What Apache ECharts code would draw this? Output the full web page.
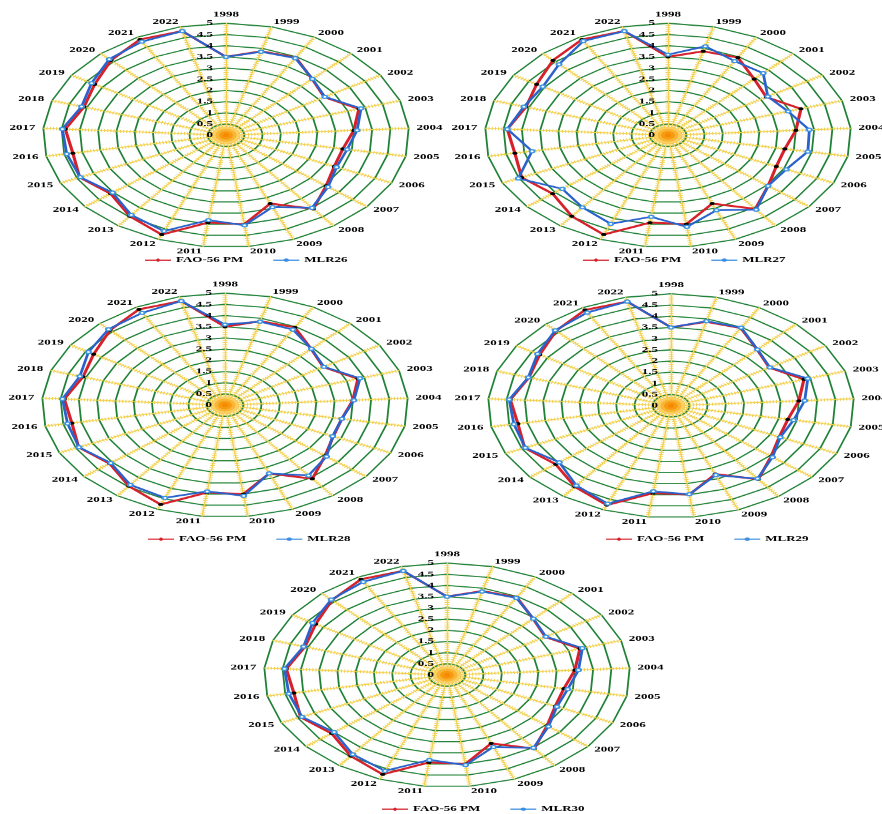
<!DOCTYPE html>
<html>
<head>
<meta charset="utf-8">
<title>FAO-56 PM vs MLR26-30</title>
<script src="https://cdn.jsdelivr.net/npm/echarts@6/dist/echarts.min.js"></script>
<style>
  html, body { margin: 0; padding: 0; background: #fff; overflow: hidden; }
  #wrap { width: 882px; height: 814px; overflow: hidden; }
  /* the figure is a set of circular radars squashed vertically */
  #chart { width: 882px; height: 1330px; transform: scaleY(0.612); transform-origin: 0 0; }
</style>
</head>
<body>
<div id="wrap"><div id="chart"></div></div>
<script>
const years = ['1998', '1999', '2000', '2001', '2002', '2003', '2004', '2005', '2006',
  '2007', '2008', '2009', '2010', '2011', '2012', '2013', '2014', '2015', '2016',
  '2017', '2018', '2019', '2020', '2021', '2022'];

const fao56 = [3.5, 3.87, 3.96, 3.44, 3.18, 3.82, 3.5, 3.25, 3.27, 3.55, 4.06, 3.28, 4.0,
  3.93, 4.77, 4.47, 4.09, 4.42, 4.26, 4.4, 4.08, 4.25, 4.59, 4.88, 4.8];
const mlr26 = [3.5, 3.85, 3.93, 3.45, 3.2, 3.88, 3.59, 3.37, 3.34, 3.62, 4.0, 3.45, 4.05,
  3.82, 4.6, 4.4, 4.02, 4.4, 4.43, 4.48, 4.15, 4.35, 4.66, 4.77, 4.8];
const mlr27 = [3.6, 4.1, 3.78, 3.8, 3.23, 3.45, 3.87, 3.89, 3.57, 3.55, 4.1, 3.6, 4.12,
  3.67, 4.25, 3.98, 3.75, 4.52, 3.78, 4.4, 4.14, 4.05, 4.35, 4.8, 4.8];
const mlr28 = [3.6, 3.85, 3.85, 3.45, 3.2, 3.88, 3.53, 3.25, 3.25, 3.6, 3.88, 3.28, 4.08,
  3.88, 4.45, 4.4, 4.05, 4.41, 4.38, 4.45, 4.17, 4.42, 4.65, 4.7, 4.8];
const mlr29 = [3.5, 3.9, 3.98, 3.45, 3.2, 3.93, 3.66, 3.41, 3.3, 3.6, 4.02, 3.33, 3.98,
  3.85, 4.7, 4.4, 3.96, 4.4, 4.37, 4.43, 4.1, 4.32, 4.62, 4.75, 4.8];
const mlr30 = [3.5, 3.85, 3.93, 3.45, 3.2, 3.89, 3.6, 3.36, 3.32, 3.6, 4.02, 3.45, 4.05,
  3.82, 4.6, 4.38, 4.0, 4.38, 4.4, 4.45, 4.12, 4.35, 4.62, 4.75, 4.8];

const models = ['MLR26', 'MLR27', 'MLR28', 'MLR29', 'MLR30'];
const mlrValues = [mlr26, mlr27, mlr28, mlr29, mlr30];

// layout in unsquashed pixels
const SQUASH = 0.612;
const R = 183;
const centers = [[226, 221], [668, 221], [225, 662], [671, 663], [447, 1103]];
const legendAt = [[140, 258], [578, 258], [143, 537], [601, 537], [377, 807]];

const RED = '#d6202a';
const BLUE = '#2a62cc';
const font = { color: '#000', fontFamily: '"Liberation Serif", "Times New Roman", serif', fontWeight: 'bold', fontSize: 13 };

// radar goes counter-clockwise, the figure goes clockwise from 1998 at the top
const order = years.map((y, i) => (i === 0 ? 0 : years.length - i));
const cw = arr => order.map(i => arr[i]);

const faoIcon = 'path://M0,3.1H26V4.9H0Z M13,1L16,4L13,7L10,4Z';
const mlrIcon = 'path://M0,3.1H26V4.9H0Z M13,1.3A2.7,2.7,0,1,1,12.99,1.3Z';

const chart = echarts.init(document.getElementById('chart'));

chart.setOption({
  backgroundColor: '#fff',
  animation: false,
  radar: centers.map(c => ({
    center: c,
    radius: R,
    startAngle: 90,
    shape: 'polygon',
    splitNumber: 10,
    z: 1,
    indicator: cw(years).map(name => ({ name, min: 0, max: 5 })),
    axisName: font,
    axisNameGap: 8,
    splitLine: { lineStyle: { color: '#1f8236', width: 1.8 } },
    splitArea: { show: false },
    axisLine: { lineStyle: { color: '#f2d250', width: 1.4 } },
    axisTick: { show: false },
    axisLabel: { show: false }
  })),
  polar: [
    ...centers.map(c => ({ center: c, radius: R })),
    ...centers.map(c => ({ center: c, radius: 14 }))
  ],
  angleAxis: [
    ...centers.map((c, i) => ({
      polarIndex: i,
      type: 'category',
      data: years,
      startAngle: 90,
      boundaryGap: false,
      z: 0,
      axisLine: { show: false },
      axisTick: { show: false },
      axisLabel: { show: false },
      splitLine: { show: true, lineStyle: { color: '#f1cc3f', width: 5, type: [1, 2.2] } }
    })),
    ...centers.map((c, i) => ({
      polarIndex: 5 + i,
      type: 'value',
      startAngle: 90,
      axisLine: { show: false },
      axisTick: { show: false },
      axisLabel: { show: false },
      splitLine: { show: false }
    }))
  ],
  radiusAxis: [
    ...centers.map((c, i) => ({
      polarIndex: i,
      type: 'value',
      min: 0,
      max: 5,
      interval: 0.5,
      z: 6,
      axisLine: { show: false },
      axisTick: { show: false },
      splitLine: { show: false },
      axisLabel: Object.assign({ margin: 13 }, font)
    })),
    ...centers.map((c, i) => ({
      polarIndex: 5 + i,
      type: 'value',
      min: 0,
      max: 4,
      interval: 1,
      z: 4,
      axisLine: { show: false },
      axisTick: { show: false },
      axisLabel: { show: false },
      splitLine: { show: true, lineStyle: { color: '#f4a81c', width: 1 } },
      splitArea: { show: true, areaStyle: { color: ['#f58a00', '#f79a12', '#f9b536', '#fbd062'] } }
    }))
  ],
  legend: models.map((m, i) => ({
    left: legendAt[i][0],
    top: legendAt[i][1] / SQUASH - 8,
    itemGap: 30,
    itemWidth: 26,
    itemHeight: 8,
    selectedMode: false,
    textStyle: font,
    data: [
      { name: 'FAO-56 PM', icon: faoIcon, itemStyle: { color: RED } },
      { name: m, icon: mlrIcon, itemStyle: { color: '#3d8fe0' } }
    ]
  })),
  series: mlrValues.map((vals, i) => ({
    type: 'radar',
    radarIndex: i,
    z: 3,
    data: [
      {
        name: 'FAO-56 PM',
        value: cw(fao56),
        symbol: 'circle',
        symbolSize: 5,
        lineStyle: { color: RED, width: 3.2 },
        itemStyle: { color: '#000' }
      },
      {
        name: models[i],
        value: cw(vals),
        symbol: 'emptyCircle',
        symbolSize: 5,
        lineStyle: { color: BLUE, width: 2.8 },
        itemStyle: { color: '#3d95e6', borderWidth: 1.2 }
      }
    ]
  }))
});
</script>
</body>
</html>
